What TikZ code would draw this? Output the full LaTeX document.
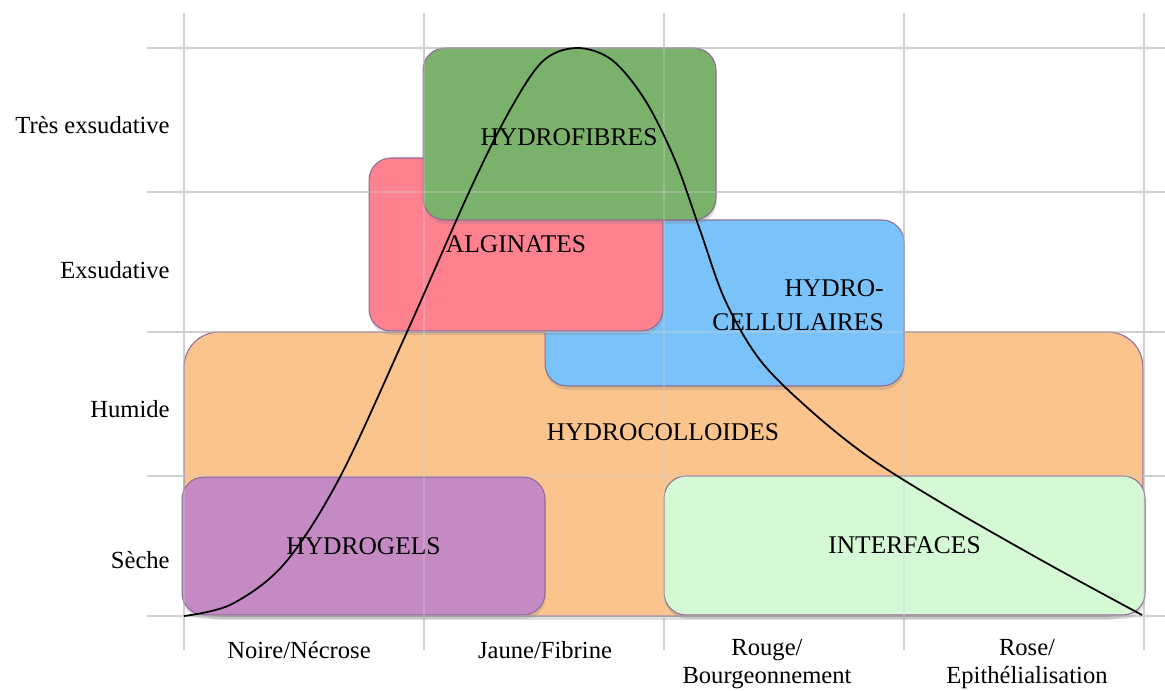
\documentclass[tikz,border=0pt]{standalone}
\usepackage{xcolor}
\usepackage{fontspec}
\setmainfont{Liberation Serif}
\usepackage{tikz}
\usetikzlibrary{positioning}
\usetikzlibrary{shadows}

\definecolor{gridgray}{HTML}{D0D0D0}
\definecolor{boxedge}{HTML}{8D6C94}
\definecolor{colloide}{HTML}{FAC48C}
\definecolor{gel}{HTML}{C58AC4}
\definecolor{interface}{HTML}{D6F9D5}
\definecolor{alginate}{HTML}{FE818F}
\definecolor{cellulaire}{HTML}{79C3FA}
\definecolor{fibre}{HTML}{7BB26B}

\newcommand{\quadrillage}[1]{%
	\foreach \gx in {184,424,664,904,1144}
		\draw[gridline,#1] (\gx,13) -- (\gx,650);
	\foreach \gy in {48,192,332,476,616}
		\draw[gridline,#1] (147,\gy) -- (1165,\gy);}

\begin{document}
\begin{tikzpicture}[x=0.02cm,y=-0.02cm,
	gridline/.style={draw=gridgray,line width=0.8pt},
	pansement/.style={draw=boxedge,line width=0.6pt,inner sep=0pt,outer sep=0pt,
		rounded corners=0.44cm,
		drop shadow={shadow xshift=0.4pt,shadow yshift=-2.2pt,opacity=0.25},
		font=\fontsize{14.5}{17}\selectfont},
	axe/.style={inner sep=0pt,font=\fontsize{14}{16}\selectfont}]
	\useasboundingbox (0,0) rectangle (1165,690);
	\quadrillage{}
	\node (hcol) [pansement,fill=colloide,rounded corners=0.7cm,minimum width=19.18cm,minimum height=5.68cm] at (663.5,474) {};
	\node (hgel) [pansement,fill=gel,minimum width=7.26cm,minimum height=2.76cm] at (363.5,546) {};
	\node (intf) [pansement,fill=interface,minimum width=9.62cm,minimum height=2.78cm] at (904.5,545.5) {};
	\node (hcell) [pansement,fill=cellulaire,minimum width=7.18cm,minimum height=3.32cm] at (724.5,303) {};
	\node (alg) [pansement,fill=alginate,minimum width=5.88cm,minimum height=3.46cm] at (516,244.5) {};
	\node (hfib) [pansement,fill=fibre,minimum width=5.86cm,minimum height=3.44cm] at (569.5,134) {};
	\quadrillage{opacity=0.35}
	\draw[line width=1pt] plot[smooth,tension=0.55] coordinates {(184,616) (232,604) (285,563) (340,477) (407,332) (470,190) (510,110) (543,61) (577,48) (612,60) (645,100) (675,160) (700,230) (725,300) (760,360) (810,410) (870,458) (950,508) (1050,565) (1142,615)};
	\node (tgel) [inner sep=0pt,font=\fontsize{14.5}{17}\selectfont] at (hgel.center) {HYDROGELS};
	\node (tintf) [inner sep=0pt,font=\fontsize{14.5}{17}\selectfont] at (intf.center) {INTERFACES};
	\node (talg) [inner sep=0pt,font=\fontsize{14.5}{17}\selectfont] at (alg.center) {ALGINATES};
	\node (tfib) [inner sep=0pt,font=\fontsize{14.5}{17}\selectfont] at (569,137) {HYDROFIBRES};
	\node (tcol) [inner sep=0pt,font=\fontsize{14.5}{17}\selectfont] at (663,432) {HYDROCOLLOIDES};
	\node (tcell) [inner sep=0pt,anchor=east,align=right,font=\fontsize{14.5}{19.5}\selectfont] at (884,305) {HYDRO-\\CELLULAIRES};
	\node (ytres) [axe,anchor=east] at (170,125) {Très exsudative};
	\node (yexs) [axe,anchor=east] at (170,270) {Exsudative};
	\node (yhum) [axe,anchor=east] at (170,409) {Humide};
	\node (ysec) [axe,anchor=east] at (170,560) {Sèche};
	\node (xnoire) [axe,anchor=north] at (299,641) {Noire/Nécrose};
	\node (xjaune) [axe,anchor=north] at (545,641) {Jaune/Fibrine};
	\node (xrouge) [axe,anchor=north,align=center] at (767,639) {Rouge/\\Bourgeonnement};
	\node (xrose) [axe,anchor=north,align=center] at (1027,639) {Rose/\\Epithélialisation};
\end{tikzpicture}
\end{document}
